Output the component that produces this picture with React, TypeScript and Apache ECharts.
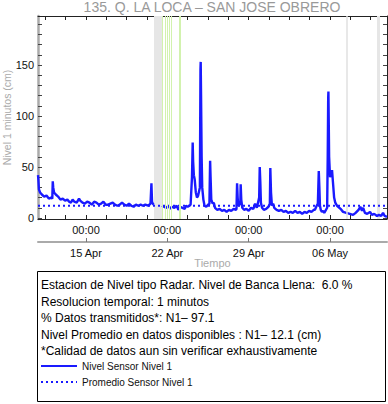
import React, { useEffect, useRef } from "react";
import * as echarts from "echarts";

const titleText = "135. Q. LA LOCA – SAN JOSE OBRERO";
const xMin = -4.13; // days from 15 Apr 00:00
const xMax = 25.9;
const weekTicks = [0, 7, 14, 21];
const dateLabels = ["15 Apr", "22 Apr", "29 Apr", "06 May"];
const timeLabel = "00:00";
const minorTicksX = [-3.5, -1.75, 0, 1.75, 3.5, 5.25, 7, 8.75, 10.5, 12.25, 14, 15.75, 17.5, 19.25, 21, 22.75, 24.5];
const yTicks = [0, 10, 20, 30, 40, 50, 60, 70, 80, 90, 100, 110, 120, 130, 140, 150, 160, 170, 180, 190];
const yLabels = [0, 50, 100, 150];
const meanLevel = 12.1;
const grayBands = [[5.85, 6.54], [25.04, 25.3]];
const grayLines = [22.46];
const greenLines = [6.6, 6.8, 7.01, 7.14, 7.36, 8.0, 8.15];

const infoLines = [
  "Estacion de Nivel tipo Radar. Nivel de Banca Llena:  6.0 %",
  "Resolucion temporal: 1 minutos",
  "% Datos transmitidos*: N1\u2013 97.1",
  "Nivel Promedio en datos disponibles : N1\u2013 12.1 (cm)",
  "*Calidad de datos aun sin verificar exhaustivamente",
];

const level: [number, number | null][] = [
  [-4.13, 42], [-4.1, 38], [-4.05, 28], [-3.95, 25], [-3.8, 23], [-3.6, 21], [-3.4, 22], [-3.2, 19],
  [-3.0, 20], [-2.9, 19], [-2.86, 36], [-2.82, 30], [-2.75, 25], [-2.6, 23], [-2.4, 21], [-2.2, 18],
  [-2.0, 19], [-1.8, 17], [-1.6, 18], [-1.45, 16], [-1.3, 15], [-1.15, 18], [-1.0, 16], [-0.8, 15],
  [-0.6, 19], [-0.5, 17], [-0.3, 15], [-0.1, 14], [0.1, 16], [0.3, 15], [0.5, 13], [0.7, 16],
  [0.9, 15], [1.1, 13], [1.3, 14], [1.5, 16], [1.7, 13], [1.9, 13], [2.1, 14], [2.3, 15],
  [2.5, 13], [2.7, 12], [2.9, 13], [3.1, 15], [3.3, 13], [3.5, 12], [3.7, 14], [3.9, 12],
  [4.1, 11], [4.3, 13], [4.5, 12], [4.7, 13], [4.9, 12], [5.1, 13], [5.35, 12], [5.55, 14],
  [5.63, 34], [5.68, 16], [5.75, 14], [5.83, 13], [5.86, null],
  [6.54, 12], [6.7, 11], [6.9, 10], [7.1, 12], [7.25, 9], [7.4, 11], [7.6, 10], [7.8, 12],
  [7.95, 8], [8.1, 11], [8.3, 10], [8.5, 9], [8.6, 12], [8.75, 11], [8.9, 12], [9.0, 13],
  [9.12, 40], [9.18, 74], [9.22, 55], [9.28, 42], [9.35, 38], [9.45, 25], [9.55, 20], [9.65, 22],
  [9.8, 30], [9.85, 146], [9.87, 153], [9.9, 120], [9.95, 60], [10.0, 30], [10.1, 18], [10.2, 12],
  [10.35, 11], [10.5, 13], [10.62, 14], [10.68, 56], [10.72, 40], [10.78, 18], [10.9, 14], [11.0, 15],
  [11.1, 10], [11.3, 8], [11.5, 9], [11.7, 7], [11.9, 8], [12.1, 6], [12.3, 8], [12.5, 7],
  [12.7, 9], [12.9, 8], [12.95, 9], [13.0, 34], [13.05, 20], [13.1, 12], [13.2, 13], [13.28, 15],
  [13.31, 33], [13.36, 18], [13.45, 10], [13.6, 8], [13.8, 9], [14.0, 7], [14.2, 10], [14.4, 9],
  [14.55, 14], [14.7, 10], [14.82, 16], [14.9, 20], [14.95, 50], [15.0, 35], [15.05, 15], [15.15, 10],
  [15.3, 8], [15.5, 9], [15.7, 11], [15.82, 14], [15.86, 49], [15.92, 25], [16.0, 12], [16.1, 14],
  [16.2, 10], [16.4, 8], [16.6, 7], [16.8, 8], [17.0, 6], [17.2, 7], [17.4, 5], [17.6, 6],
  [17.8, 5], [18.0, 7], [18.2, 5], [18.4, 6], [18.6, 4], [18.8, 6], [19.0, 5], [19.2, 7],
  [19.4, 6], [19.6, 8], [19.7, 8], [19.85, 12], [19.95, 14], [20.03, 46], [20.08, 30], [20.13, 12],
  [20.2, 8], [20.3, 6], [20.4, 7], [20.5, 5], [20.6, 7], [20.75, 10], [20.8, 60], [20.84, 118],
  [20.86, 124], [20.92, 60], [21.0, 40], [21.1, 44], [21.17, 47], [21.25, 35], [21.35, 20], [21.45, 15],
  [21.6, 12], [21.9, 9], [22.12, 6], [22.4, 5], [22.7, 4], [22.98, 3], [23.2, 5], [23.45, 8],
  [23.6, 11], [23.75, 7], [23.85, 10], [24.0, 5], [24.2, 4], [24.44, 6], [24.6, 3], [24.8, 4],
  [25.04, 2], [25.2, 3], [25.4, 2], [25.56, 5], [25.7, 2], [25.9, 1],
];

const FONT = "'Liberation Sans', Arial, Helvetica, sans-serif";
const BLUE = "#1a1aff";

export default function App() {
  const ref = useRef<HTMLDivElement>(null);
  useEffect(() => {
    document.body.style.margin = "0";
    if (!ref.current) return;
    const chart = echarts.init(ref.current, undefined, { renderer: "svg" });
    const commonX = { type: "value", min: xMin, max: xMax, splitLine: { show: false } };
    const option: any = {
      animation: false,
      backgroundColor: "#fff",
      textStyle: { fontFamily: FONT },
      title: {
        text: titleText,
        left: 212,
        textAlign: "center",
        top: 0,
        padding: 0,
        textStyle: { color: "#999", fontSize: 14, fontWeight: "normal", fontFamily: FONT },
      },
      grid: { left: 38, right: 1, top: 16, bottom: 185, outerBoundsMode: "none", containLabel: false },
      xAxis: [
        {
          ...commonX,
          position: "bottom",
          axisLine: { show: true, onZero: false, lineStyle: { color: "#222", width: 1 } },
          axisTick: { show: true, inside: true, length: 4, customValues: minorTicksX, lineStyle: { color: "#222" } },
          axisLabel: {
            show: true,
            customValues: weekTicks,
            formatter: () => timeLabel,
            color: "#111",
            fontSize: 11,
            margin: 5,
            fontFamily: FONT,
          },
        },
        {
          ...commonX,
          position: "top",
          axisLine: { show: true, onZero: false, lineStyle: { color: "#222", width: 1 } },
          axisTick: { show: true, inside: true, length: 4, customValues: minorTicksX, lineStyle: { color: "#222" } },
          axisLabel: { show: false },
        },
        {
          ...commonX,
          position: "bottom",
          offset: 23,
          axisLine: { show: true, onZero: false, lineStyle: { color: "#aaa", width: 2 } },
          axisTick: { show: true, inside: true, length: 4, customValues: weekTicks, lineStyle: { color: "#777" } },
          axisLabel: {
            show: true,
            customValues: weekTicks,
            formatter: (v: number) => dateLabels[weekTicks.indexOf(Math.round(v))] ?? "",
            color: "#111",
            fontSize: 11,
            margin: 5,
            fontFamily: FONT,
          },
          name: "Tiempo",
          nameLocation: "middle",
          nameGap: 15,
          nameMoveOverlap: false,
          nameTextStyle: { color: "#aaa", fontSize: 11, fontFamily: FONT },
        },
      ],
      yAxis: [
        {
          type: "value",
          min: -1,
          max: 198,
          position: "left",
          splitLine: { show: false },
          axisLine: { show: true, onZero: false, lineStyle: { color: "#aaa", width: 2.5 } },
          axisTick: { show: true, inside: true, length: 4, customValues: yTicks, lineStyle: { color: "#444" } },
          axisLabel: { show: true, customValues: yLabels, color: "#111", fontSize: 11, margin: 4, fontFamily: FONT },
          name: "Nivel 1 minutos (cm)",
          nameLocation: "middle",
          nameGap: 26,
          nameMoveOverlap: false,
          nameTextStyle: { color: "#aaa", fontSize: 10.5, fontFamily: FONT },
        },
        {
          type: "value",
          min: -1,
          max: 198,
          position: "right",
          splitLine: { show: false },
          axisLine: { show: true, onZero: false, lineStyle: { color: "#222", width: 1 } },
          axisTick: { show: true, inside: true, length: 4, customValues: yTicks, lineStyle: { color: "#444" } },
          axisLabel: { show: false },
        },
      ],
      legend: {
        orient: "vertical",
        left: 40,
        top: 361,
        padding: 0,
        itemWidth: 36,
        itemHeight: 10,
        itemGap: 6,
        selectedMode: false,
        itemStyle: { opacity: 0 },
        textStyle: { fontSize: 10, color: "#111", fontFamily: FONT },
        data: ["Nivel Sensor Nivel 1", "Promedio Sensor Nivel 1"],
      },
      graphic: [
        {
          type: "rect",
          shape: { x: 37.5, y: 271.5, width: 348, height: 130 },
          style: { fill: "#fff", stroke: "#000", lineWidth: 1 },
          z: -1,
        },
        ...infoLines.map((t, i) => ({
          type: "text",
          x: 41,
          y: 285 + i * 16.5,
          style: { text: t, fill: "#000", fontSize: 12, fontFamily: FONT, verticalAlign: "middle" },
        })),
      ],
      series: [
        {
          name: "Nivel Sensor Nivel 1",
          type: "line",
          xAxisIndex: 0,
          yAxisIndex: 0,
          data: level,
          symbol: "none",
          connectNulls: false,
          color: BLUE,
          lineStyle: { color: BLUE, width: 2.4 },
          z: 3,
          markArea: {
            silent: true,
            itemStyle: { color: "#e6e6e6" },
            data: grayBands.map((b) => [{ xAxis: b[0] }, { xAxis: b[1] }]),
          },
          markLine: {
            silent: true,
            symbol: ["none", "none"],
            label: { show: false },
            data: [
              ...greenLines.map((v) => ({ xAxis: v, lineStyle: { color: "#d2f2ae", width: 1, type: "solid" } })),
              ...grayLines.map((v) => ({ xAxis: v, lineStyle: { color: "#e0e0e0", width: 1.5, type: "solid" } })),
            ],
          },
        },
        {
          name: "Promedio Sensor Nivel 1",
          type: "line",
          xAxisIndex: 0,
          yAxisIndex: 0,
          data: [[xMin, meanLevel], [xMax, meanLevel]],
          symbol: "none",
          color: BLUE,
          lineStyle: { color: BLUE, width: 2, type: [2, 3] },
          z: 4,
        },
      ],
    };
    chart.setOption(option);
    return () => chart.dispose();
  }, []);
  return <div ref={ref} style={{ width: 388, height: 404 }} />;
}
